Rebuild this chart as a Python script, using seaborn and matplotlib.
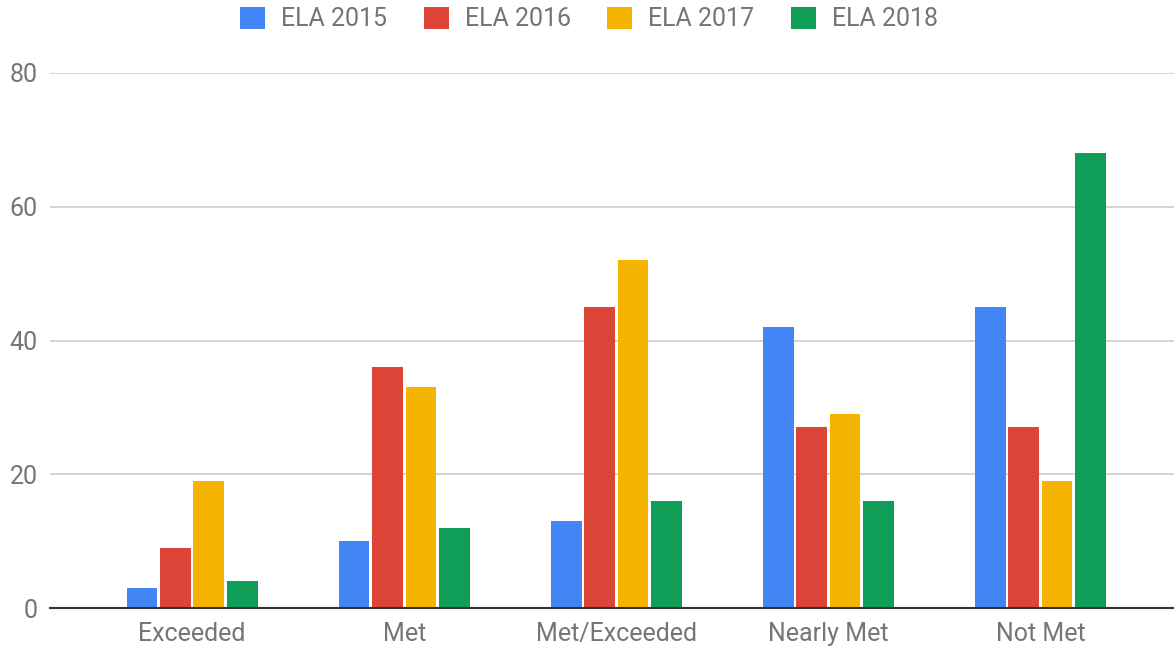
import pandas as pd
import matplotlib
matplotlib.use("Agg")
import matplotlib.pyplot as plt
import seaborn as sns

# Data
categories = ["Exceeded", "Met", "Met/Exceeded", "Nearly Met", "Not Met"]
series = ["ELA 2015", "ELA 2016", "ELA 2017", "ELA 2018"]
ela_2015 = [3, 10, 13, 42, 45]
ela_2016 = [9, 36, 45, 27, 27]
ela_2017 = [19, 33, 52, 29, 19]
ela_2018 = [4, 12, 16, 16, 68]
colors = ["#4285F4", "#DB4437", "#F4B400", "#0F9D58"]

rows = []
for name, vals in zip(series, [ela_2015, ela_2016, ela_2017, ela_2018]):
    for cat, v in zip(categories, vals):
        rows.append({"category": cat, "series": name, "value": v})
df = pd.DataFrame(rows)

sns.set_style("white")
plt.rcParams["font.family"] = ["Roboto", "DejaVu Sans"]
text_color = "#757575"

fig = plt.figure(figsize=(11.74, 6.48), dpi=100)
ax = fig.add_axes([50 / 1174, 40 / 648, 1124 / 1174, 535 / 648])

sns.barplot(data=df, x="category", y="value", hue="series", palette=colors,
            width=0.63, gap=0.08, ax=ax, edgecolor="none", saturation=1)

ax.set_ylim(0, 80)
ax.set_xlim(-0.67, 4.63)
ax.set_yticks([0, 20, 40, 60, 80])
ax.yaxis.grid(True, color="#cccccc", linewidth=1.2)
ax.set_axisbelow(True)
for side in ["top", "right", "left"]:
    ax.spines[side].set_visible(False)
ax.spines["bottom"].set_color("#333333")
ax.spines["bottom"].set_linewidth(1.5)
ax.set_xlabel("")
ax.set_ylabel("")
ax.tick_params(axis="both", length=0, labelsize=18, colors=text_color)
ax.tick_params(axis="x", pad=10)
ax.tick_params(axis="y", pad=9)

handles, labels = ax.get_legend_handles_labels()
ax.legend_.remove()
fig.legend(handles, labels, loc="center", bbox_to_anchor=(589 / 1174, 1 - 19 / 648),
           ncol=4, frameon=False, fontsize=18, labelcolor=text_color,
           handlelength=1.0, handleheight=1.0, handletextpad=0.65, columnspacing=1.45)

fig.savefig("out.png", dpi=100)
